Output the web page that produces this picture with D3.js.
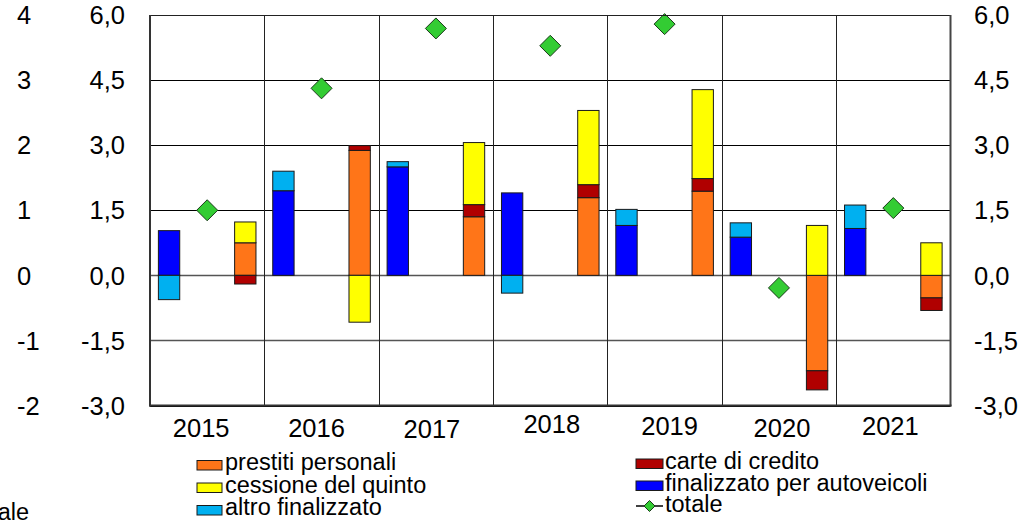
<!DOCTYPE html>
<html>
<head>
<meta charset="utf-8">
<script src="https://cdn.jsdelivr.net/npm/d3@7"></script>
<style>
  html, body { margin: 0; padding: 0; background: #fff; }
  svg { display: block; font-family: "Liberation Sans", Arial, sans-serif; }
</style>
</head>
<body>
<svg id="chart" width="1027" height="523"></svg>
<script>
// ---- data ----
const years = ["2015", "2016", "2017", "2018", "2019", "2020", "2021"];
const prestitiPersonali = [0.75, 2.88, 1.35, 1.79, 1.94, -2.20, -0.52];
const carteCredito      = [-0.20, 0.11, 0.28, 0.30, 0.29, -0.44, -0.29];
const cessioneQuinto    = [0.48, -1.08, 1.43, 1.71, 2.05, 1.15, 0.75];
const finalizzatoAuto   = [1.03, 1.95, 2.50, 1.90, 1.15, 0.88, 1.08];
const altroFinalizzato  = [-0.56, 0.45, 0.12, -0.41, 0.37, 0.33, 0.54];
const totale            = [1.50, 4.31, 5.69, 5.29, 5.79, -0.29, 1.55];
const mainTicks = [-3, -1.5, 0, 1.5, 3, 4.5, 6];
const outerTicks = [-2, -1, 0, 1, 2, 3, 4];

// ---- styling / layout ----
const colors = {
  prestiti: "#FF7518",
  carte: "#B00000",
  cessione: "#FFFF00",
  auto: "#0000FF",
  altro: "#00B0F0",
  totale: "#33CC33"
};
const labelDx = [-6, -5, -4, 1.5, 5, 3, -3];
const labelDy = [0, 0, 1, -3.5, -1.5, 0, -2];

const svg = d3.select("#chart");
const pLeft = 150, pRight = 950.5, pTop = 15, pBottom = 405.5;

const x = d3.scaleBand().domain(years).range([pLeft, pRight]).padding(0);
const slot = d3.scaleBand().domain(["A", "T", "B"]).range([0, x.bandwidth()]).padding(0);
const barW = slot.bandwidth() * 0.56;
const y = d3.scaleLinear().domain([-3, 6]).range([pBottom, pTop]);
const yOuter = d3.scaleLinear().domain([-2, 4]).range([pBottom, pTop]);

const rows = years.map((yr, i) => ({
  year: yr,
  prestiti: prestitiPersonali[i],
  carte: carteCredito[i],
  cessione: cessioneQuinto[i],
  auto: finalizzatoAuto[i],
  altro: altroFinalizzato[i],
  totale: totale[i]
}));

// grid
const g = svg.append("g");
g.selectAll("line.h").data(mainTicks).join("line")
  .attr("x1", pLeft).attr("x2", pRight)
  .attr("y1", d => Math.round(y(d)) + 0.5).attr("y2", d => Math.round(y(d)) + 0.5)
  .attr("stroke", d => (d === 0 || d === -1.5) ? "#555" : "#000")
  .attr("stroke-width", d => (d === 0 || d === -1.5) ? 1.5 : 1);
g.selectAll("line.v").data(years.slice(1)).join("line")
  .attr("x1", d => Math.round(x(d)) + 0.5).attr("x2", d => Math.round(x(d)) + 0.5)
  .attr("y1", pTop).attr("y2", pBottom)
  .attr("stroke", "#222").attr("stroke-width", 1);

// stacks
const stackB = d3.stack().keys(["prestiti", "carte", "cessione"]).offset(d3.stackOffsetDiverging)(rows);
const stackA = d3.stack().keys(["auto", "altro"]).offset(d3.stackOffsetDiverging)(rows);

function drawStack(series, slotKey) {
  series.forEach(s => {
    g.append("g").selectAll("rect").data(s).join("rect")
      .attr("x", d => x(d.data.year) + slot(slotKey) + (slot.bandwidth() - barW) / 2)
      .attr("width", barW)
      .attr("y", d => y(Math.max(d[0], d[1])))
      .attr("height", d => Math.abs(y(d[0]) - y(d[1])))
      .attr("fill", colors[s.key])
      .attr("stroke", "#1a1a1a")
      .attr("stroke-width", 1);
  });
}
drawStack(stackA, "A");
drawStack(stackB, "B");

// totale diamonds
const dr = 10.5;
const diamond = r => `M0,${-r}L${r},0L0,${r}L${-r},0Z`;
g.append("g").selectAll("path").data(rows).join("path")
  .attr("transform", d => `translate(${x(d.year) + slot("T") + slot.bandwidth() / 2},${y(d.totale)})`)
  .attr("d", diamond(dr))
  .attr("fill", colors.totale)
  .attr("stroke", "#1a3a1a")
  .attr("stroke-width", 1);

// frame
svg.append("line").attr("x1", pLeft).attr("x2", pRight).attr("y1", pTop + 0.5).attr("y2", pTop + 0.5)
  .attr("stroke", "#222").attr("stroke-width", 1);
svg.append("line").attr("x1", pLeft).attr("x2", pLeft).attr("y1", pTop).attr("y2", pBottom + 1)
  .attr("stroke", "#333").attr("stroke-width", 2);
svg.append("line").attr("x1", pRight).attr("x2", pRight).attr("y1", pTop).attr("y2", pBottom + 1)
  .attr("stroke", "#444").attr("stroke-width", 2);
svg.append("line").attr("x1", pLeft - 1).attr("x2", pRight + 1).attr("y1", pBottom).attr("y2", pBottom)
  .attr("stroke", "#333").attr("stroke-width", 2);

// axes labels
const fmt = d => d3.format(".1f")(d).replace("\u2212", "-").replace(".", ",");
const fmtInt = d => d3.format("d")(d).replace("\u2212", "-");
const axisFont = 25.5;
svg.append("g").selectAll("text").data(mainTicks).join("text")
  .attr("x", 125).attr("y", d => y(d)).attr("dy", "0.36em")
  .attr("text-anchor", "end").attr("font-size", axisFont).attr("fill", "#000")
  .text(fmt);
svg.append("g").selectAll("text").data(mainTicks).join("text")
  .attr("x", 974).attr("y", d => y(d)).attr("dy", "0.36em")
  .attr("text-anchor", "start").attr("font-size", axisFont).attr("fill", "#000")
  .text(fmt);
svg.append("g").selectAll("text").data(outerTicks).join("text")
  .attr("x", 17).attr("y", d => yOuter(d)).attr("dy", "0.36em")
  .attr("text-anchor", "start").attr("font-size", axisFont).attr("fill", "#000")
  .text(fmtInt);
svg.append("g").selectAll("text").data(years).join("text")
  .attr("x", (d, i) => x(d) + x.bandwidth() / 2 + labelDx[i])
  .attr("y", (d, i) => 436.5 + labelDy[i])
  .attr("text-anchor", "middle").attr("font-size", axisFont).attr("fill", "#000")
  .text(d => d);

// cut-off text bottom-left
svg.append("text").attr("x", 29).attr("y", 520).attr("text-anchor", "end")
  .attr("font-size", 23.5).text("totale");

// legend
const legendItems = [
  { label: "prestiti personali", key: "prestiti", lx: 197, ly: 470 },
  { label: "cessione del quinto", key: "cessione", lx: 197, ly: 492.5 },
  { label: "altro finalizzato", key: "altro", lx: 197, ly: 515 },
  { label: "carte di credito", key: "carte", lx: 636, ly: 468.5 },
  { label: "finalizzato per autoveicoli", key: "auto", lx: 636, ly: 490.5 },
  { label: "totale", key: "totale", lx: 636, ly: 512 }
];
const leg = svg.append("g");
legendItems.forEach(it => {
  const gi = leg.append("g");
  if (it.key === "totale") {
    gi.append("line").attr("x1", it.lx).attr("x2", it.lx + 27)
      .attr("y1", it.ly - 6).attr("y2", it.ly - 6).attr("stroke", "#000").attr("stroke-width", 1.5);
    gi.append("path").attr("transform", `translate(${it.lx + 13.5},${it.ly - 6})`)
      .attr("d", diamond(5.5)).attr("fill", colors.totale).attr("stroke", "#1a3a1a").attr("stroke-width", 1);
  } else {
    gi.append("rect").attr("x", it.lx).attr("y", it.ly - 9.5).attr("width", it.lx === 197 ? 25 : 27).attr("height", 9.5)
      .attr("fill", colors[it.key]).attr("stroke", "#1a1a1a").attr("stroke-width", 1);
  }
  gi.append("text").attr("x", it.lx + (it.lx === 197 ? 28 : 29)).attr("y", it.ly)
    .attr("font-size", 23.5).attr("fill", "#000").text(it.label);
});
</script>
</body>
</html>
